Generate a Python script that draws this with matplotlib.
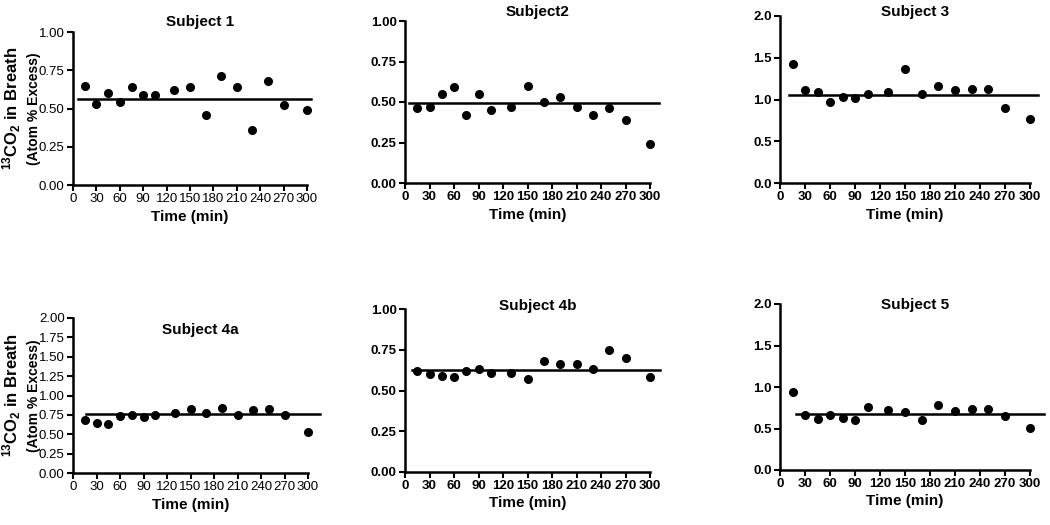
import matplotlib
matplotlib.use("Agg")
import matplotlib.pyplot as plt
import numpy as np

plt.rcParams['font.family'] = ['Liberation Sans', 'DejaVu Sans']
plt.rcParams['mathtext.fontset'] = 'custom'
plt.rcParams['mathtext.rm'] = 'Liberation Sans:bold'
plt.rcParams['mathtext.it'] = 'Liberation Sans:bold'

# sampling times (min)
times = [15, 30, 45, 60, 75, 90, 105, 130, 150, 170, 190, 210, 230, 250, 270, 300]

subjects = ["Subject 1", "Subject2", "Subject 3", "Subject 4a", "Subject 4b", "Subject 5"]

s1 = [0.65, 0.53, 0.60, 0.54, 0.64, 0.59, 0.59, 0.62, 0.64, 0.46, 0.71, 0.64, 0.36, 0.68, 0.52, 0.49]
s2 = [0.46, 0.47, 0.55, 0.59, 0.42, 0.55, 0.45, 0.47, 0.60, 0.50, 0.53, 0.47, 0.42, 0.46, 0.39, 0.24]
s3 = [1.43, 1.11, 1.09, 0.97, 1.03, 1.02, 1.06, 1.09, 1.37, 1.06, 1.16, 1.11, 1.13, 1.13, 0.90, 0.77]
s4a = [0.69, 0.65, 0.63, 0.73, 0.75, 0.72, 0.75, 0.77, 0.83, 0.78, 0.84, 0.75, 0.81, 0.83, 0.75, 0.53]
s4b = [0.62, 0.60, 0.59, 0.58, 0.62, 0.63, 0.61, 0.61, 0.57, 0.68, 0.66, 0.66, 0.63, 0.75, 0.70, 0.58]
s5 = [0.94, 0.66, 0.61, 0.66, 0.63, 0.60, 0.76, 0.72, 0.70, 0.60, 0.78, 0.71, 0.73, 0.73, 0.65, 0.51]
series = [s1, s2, s3, s4a, s4b, s5]

# mean lines and their x extent
means = [0.565, 0.496, 1.056, 0.76, 0.625, 0.68]
line_start = [6, 5, 11, 17, 8, 19]
line_end = [305, 311, 310, 315, 312, 317]

ymax = [1.0, 1.0, 2.0, 2.0, 1.0, 2.0]
ystep = [0.25, 0.25, 0.5, 0.25, 0.25, 0.5]
yfmt = ["%.2f", "%.2f", "%.1f", "%.2f", "%.2f", "%.1f"]
bold_ticks = [False, True, True, False, True, True]

# axes boxes in pixels: left, top, right, bottom
W, H = 1050, 525
boxes = [(73, 32, 307, 185), (405, 21, 650, 183), (780, 16, 1030, 183),
         (73, 318, 308, 473), (405, 309, 650, 472), (780, 304, 1030, 470)]
title_y = [22, 12, 12, 330, 306, 305]

fig = plt.figure(figsize=(10.5, 5.25), dpi=100)

for i in range(6):
    l, t, r, b = boxes[i]
    ax = fig.add_axes([l / W, 1 - b / H, (r - l) / W, (b - t) / H])
    ax.plot(times, series[i], 'o', color='black', markersize=5.5, clip_on=False)
    ax.plot([line_start[i], line_end[i]], [means[i], means[i]], color='black', lw=1.8, clip_on=False)
    ax.set_xlim(0, 300)
    ax.set_ylim(0, ymax[i])
    ax.set_xticks(np.arange(0, 301, 30))
    yt = np.arange(0, ymax[i] + 1e-9, ystep[i])
    ax.set_yticks(yt)
    ax.set_yticklabels([yfmt[i] % v for v in yt])
    for s in ['top', 'right']:
        ax.spines[s].set_visible(False)
    for s in ['left', 'bottom']:
        ax.spines[s].set_linewidth(1.8)
    ax.tick_params(direction='out', width=1.5, length=4, labelsize=9.5, pad=2)
    w = 'bold' if bold_ticks[i] else 'normal'
    for lab in ax.get_xticklabels() + ax.get_yticklabels():
        lab.set_fontweight(w)
    ax.set_xlabel("Time (min)", fontsize=11, fontweight='bold', labelpad=3)
    if i in (0, 3):
        ax.text(-0.26, 0.5, "$^{13}$CO$_2$ in Breath", transform=ax.transAxes,
                rotation=90, ha='center', va='center', fontsize=12, fontweight='bold')
        ax.text(-0.165, 0.5, "(Atom % Excess)", transform=ax.transAxes,
                rotation=90, ha='center', va='center', fontsize=10, fontweight='bold')
    fig.text(((l + r) / 2 + 10) / W, 1 - title_y[i] / H, subjects[i], ha='center',
             va='center', fontsize=11, fontweight='bold')

fig.savefig("out.png", dpi=100)
